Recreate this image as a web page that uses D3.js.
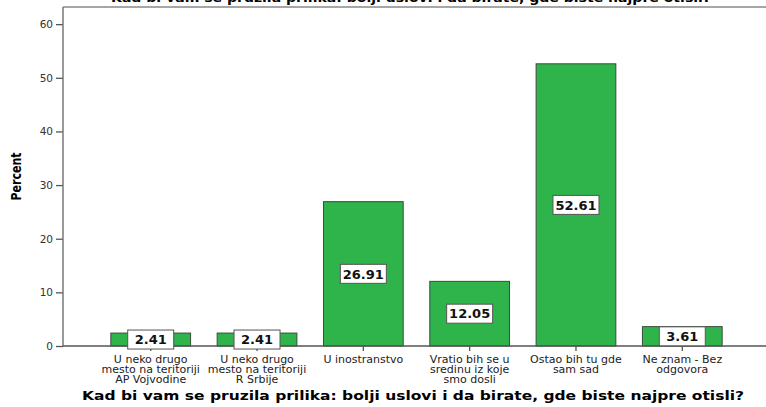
<!DOCTYPE html>
<html>
<head>
<meta charset="utf-8">
<script src="https://cdn.jsdelivr.net/npm/d3@7"></script>
<style>
    body { margin: 0; background: #fff; }
    svg text { font-family: "DejaVu Sans", Verdana, sans-serif; }
</style>
</head>
<body>
<div id="chart"></div>
<script>
// categories (multi-line labels) and percent values
let categories = [
    ["U neko drugo", "mesto na teritoriji", "AP Vojvodine"],
    ["U neko drugo", "mesto na teritoriji", "R Srbije"],
    ["U inostranstvo"],
    ["Vratio bih se u", "sredinu iz koje", "smo dosli"],
    ["Ostao bih tu gde", "sam sad"],
    ["Ne znam - Bez", "odgovora"]
];
let percents = [2.41, 2.41, 26.91, 12.05, 52.61, 3.61];
let yTicks = [0, 10, 20, 30, 40, 50, 60];

let titleText = "Kad bi vam se pruzila prilika: bolji uslovi i da birate, gde biste najpre otisli?";

let W = 766, H = 407;
let margin = {top: 7, right: -4, bottom: 61, left: 63};

let svg = d3.select("#chart").append("svg")
    .attr("width", W)
    .attr("height", H);

// scales
let x = d3.scaleBand()
    .domain(d3.range(categories.length))
    .range([margin.left, W - margin.right])
    .paddingInner(0.25)
    .paddingOuter(0.45);

let y = d3.scaleLinear()
    .domain([0, 63.2])
    .range([H - margin.bottom, margin.top]);

// top title (cut off at top of image)
svg.append("text")
    .attr("x", 411)
    .attr("y", 2)
    .attr("text-anchor", "middle")
    .attr("font-size", "12px")
    .attr("font-weight", "bold")
    .attr("textLength", 600)
    .attr("lengthAdjust", "spacingAndGlyphs")
    .text(titleText);

// frame: top line
svg.append("line")
    .attr("x1", margin.left).attr("x2", W)
    .attr("y1", margin.top).attr("y2", margin.top)
    .attr("stroke", "#888").attr("stroke-width", 1.5);

// bars
svg.selectAll("rect.bar")
    .data(percents)
    .join("rect")
    .attr("class", "bar")
    .attr("x", (d, i) => x(i))
    .attr("y", d => y(d))
    .attr("width", x.bandwidth())
    .attr("height", d => y(0) - y(d))
    .attr("fill", "#2eb44b")
    .attr("stroke", "#3c4a3e")
    .attr("stroke-width", 1);

// y axis
let yAxis = svg.append("g")
    .attr("transform", `translate(${margin.left},0)`)
    .call(d3.axisLeft(y).tickValues(yTicks).tickSize(7).tickPadding(3).tickSizeOuter(0));
yAxis.select(".domain").remove();
yAxis.selectAll(".tick line").attr("stroke", "#555").attr("stroke-width", 1.3);
yAxis.selectAll(".tick text")
    .attr("font-size", "10.5px")
    .attr("fill", "#333")
    .attr("font-family", "'DejaVu Sans', Verdana, sans-serif");

svg.append("line")
    .attr("x1", margin.left).attr("x2", margin.left)
    .attr("y1", margin.top).attr("y2", y(0))
    .attr("stroke", "#777").attr("stroke-width", 1.5);

// x axis
let xAxis = svg.append("g")
    .attr("transform", `translate(0,${y(0)})`)
    .call(d3.axisBottom(x).tickSize(5).tickFormat(""));
xAxis.select(".domain").remove();
xAxis.selectAll(".tick line").attr("stroke", "#555").attr("stroke-width", 1.3);

svg.append("line")
    .attr("x1", margin.left).attr("x2", W)
    .attr("y1", y(0)).attr("y2", y(0))
    .attr("stroke", "#555").attr("stroke-width", 1.5);

// category labels
let catLabels = svg.selectAll("text.cat")
    .data(categories)
    .join("text")
    .attr("class", "cat")
    .attr("text-anchor", "middle")
    .attr("font-size", "11px")
    .attr("fill", "#222")
    .attr("x", (d, i) => x(i) + x.bandwidth() / 2)
    .attr("y", y(0) + 17);

catLabels.selectAll("tspan")
    .data(d => d)
    .join("tspan")
    .attr("x", function () { return this.parentNode.getAttribute("x"); })
    .attr("dy", (d, i) => i === 0 ? 0 : 10)
    .text(d => d);

// value labels in boxes
let vals = svg.selectAll("g.val")
    .data(percents)
    .join("g")
    .attr("class", "val")
    .attr("transform", (d, i) => `translate(${x(i) + x.bandwidth() / 2},${(y(d) + y(0)) / 2})`);

vals.append("rect")
    .attr("x", -23)
    .attr("y", -9.5)
    .attr("width", 46)
    .attr("height", 19)
    .attr("fill", "#fff")
    .attr("stroke", "#555")
    .attr("stroke-width", 1);

vals.append("text")
    .attr("text-anchor", "middle")
    .attr("dy", "0.37em")
    .attr("font-size", "13px")
    .attr("font-weight", "bold")
    .attr("fill", "#111")
    .text(d => d.toFixed(2));

// axis titles
svg.append("text")
    .attr("transform", `translate(21,${(margin.top + y(0)) / 2}) rotate(-90)`)
    .attr("text-anchor", "middle")
    .attr("font-size", "14px")
    .attr("font-weight", "bold")
    .attr("font-family", "'Liberation Sans Narrow', 'Liberation Sans', Arial, sans-serif")
    .attr("textLength", 48)
    .attr("lengthAdjust", "spacingAndGlyphs")
    .text("Percent");

svg.append("text")
    .attr("x", 413)
    .attr("y", 400)
    .attr("text-anchor", "middle")
    .attr("font-size", "12px")
    .attr("font-weight", "bold")
    .attr("textLength", 662)
    .attr("lengthAdjust", "spacingAndGlyphs")
    .text(titleText);
</script>
</body>
</html>
